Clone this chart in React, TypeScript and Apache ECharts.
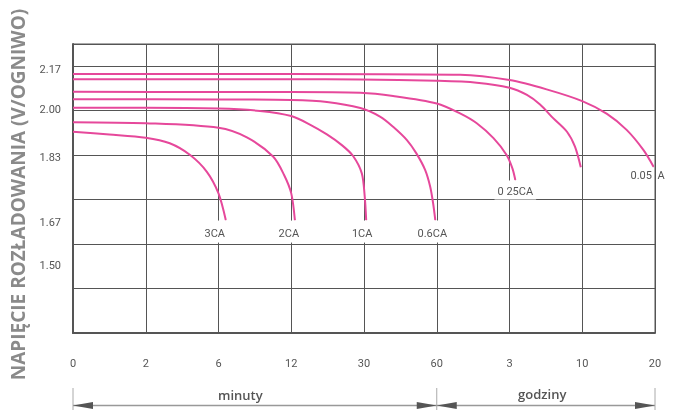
import React, { useEffect, useRef } from "react";
import * as echarts from "echarts";

// x positions are in axis-slot units: 0..8 -> labels below
const xTickLabels = ["0", "2", "6", "12", "30", "60", "3", "10", "20"];
const yTickLabels = ["2.17", "2.00", "1.83", "1.67", "1.50"];
const yTickLabelValues = [2.155, 2.003, 1.823, 1.58, 1.418];

const curveNames = ["3CA", "2CA", "1CA", "0.6CA", "0 25CA", "", "0.05  A"];

const c3CA: number[][] = [
  [0, 1.921], [0.5, 1.911], [1.0, 1.899], [1.33, 1.878], [1.61, 1.834],
  [1.84, 1.771], [2.0, 1.69], [2.1, 1.59],
];
const c2CA: number[][] = [
  [0, 1.957], [1.0, 1.953], [2.0, 1.936], [2.39, 1.9],
  [2.75, 1.828], [2.9, 1.76], [3.0, 1.69], [3.05, 1.59],
];
const c1CA: number[][] = [
  [0, 2.011], [1, 2.011], [2, 2.008], [2.57, 1.999], [3, 1.98], [3.25, 1.949],
  [3.49, 1.911], [3.7, 1.87], [3.85, 1.83], [3.97, 1.765], [4.01, 1.678], [4.03, 1.59],
];
const c06CA: number[][] = [
  [0, 2.043], [2, 2.042], [3, 2.04], [3.49, 2.033], [3.95, 2.01], [4.22, 1.978],
  [4.4, 1.94], [4.59, 1.89], [4.72, 1.84], [4.84, 1.778], [4.91, 1.715],
  [4.95, 1.653], [4.98, 1.59],
];
const c025CA: number[][] = [
  [0, 2.071], [2, 2.07], [3, 2.07], [3.95, 2.067], [4.4, 2.055], [5.0, 2.027],
  [5.32, 1.99], [5.55, 1.953], [5.78, 1.897], [5.96, 1.834], [6.04, 1.784],
  [6.08, 1.74],
];
const c01CA: number[][] = [
  [0, 2.118], [3, 2.118], [3.95, 2.117], [5.0, 2.112], [5.55, 2.105], [6.0, 2.086],
  [6.24, 2.059], [6.42, 2.023], [6.6, 1.972], [6.79, 1.921], [6.9, 1.865],
  [6.98, 1.788],
];
const c005CA: number[][] = [
  [0, 2.138], [3, 2.138], [5.32, 2.135], [6.0, 2.115], [6.51, 2.08], [7.0, 2.036],
  [7.34, 1.988], [7.61, 1.928], [7.84, 1.853], [7.98, 1.79],
];

const curves = [c3CA, c2CA, c1CA, c06CA, c025CA, c01CA, c005CA];

// label styling per curve (style only)
const labelStyles = [
  { offset: [-11, 0], padding: [7, 3, 4, 3], bg: "#fff" },
  { offset: [-6, 0], padding: [7, 3, 4, 3], bg: "#fff" },
  { offset: [-4, 0], padding: [7, 3, 4, 3], bg: "#fff" },
  { offset: [-3, 0], padding: [7, 3, 4, 3], bg: "#fff" },
  { offset: [0, 0], padding: [5, 3, 3, 3], bg: "#fff" },
  null,
  { offset: [-6, 0], padding: [3, 0, 0, 0], bg: "transparent" },
];

const PINK = "#e6489b";
const GRID = "#555";
const TEXT = "#555";
const FONT = "Roboto, 'Open Sans', sans-serif";

export default function App() {
  const ref = useRef<HTMLDivElement>(null);

  useEffect(() => {
    if (!ref.current) return;
    const chart = echarts.init(ref.current, undefined, { renderer: "svg" });

    const series = curves.map((pts, si) => {
      const ls = labelStyles[si];
      return {
        type: "line",
        name: curveNames[si],
        symbol: "none",
        showSymbol: true,
        smooth: 0.3,
        lineStyle: { color: PINK, width: 2 },
        itemStyle: { color: PINK },
        z: 3,
        data: pts.map((p, i) => {
          if (i === pts.length - 1 && ls) {
            return {
              value: p,
              symbol: "circle",
              symbolSize: 1,
              label: {
                show: true,
                formatter: curveNames[si],
                position: "bottom",
                distance: 0,
                offset: ls.offset,
                padding: ls.padding,
                backgroundColor: ls.bg,
                color: TEXT,
                fontSize: 11,
                fontFamily: FONT,
              },
            };
          }
          return p;
        }),
      };
    });

    chart.setOption({
      animation: false,
      grid: {
        left: 73,
        right: 23,
        top: 44,
        bottom: 77,
        show: true,
        borderColor: GRID,
        borderWidth: 1,
        backgroundColor: "transparent",
      },
      xAxis: {
        type: "value",
        min: 0,
        max: 8,
        interval: 1,
        axisLine: { show: true, onZero: false, lineStyle: { color: GRID, width: 2 } },
        axisTick: { show: false },
        splitLine: { show: true, lineStyle: { color: GRID, width: 1 } },
        axisLabel: {
          margin: 25,
          color: TEXT,
          fontSize: 11,
          fontFamily: FONT,
          formatter: (v: number) => xTickLabels[Math.round(v)] ?? "",
        },
      },
      yAxis: [
        {
          type: "value",
          min: 7 / 6,
          max: 2.25,
          interval: 1 / 6,
          axisLine: { show: true, onZero: false, lineStyle: { color: GRID, width: 2 } },
          axisTick: { show: false },
          axisLabel: { show: false },
          splitLine: { show: true, lineStyle: { color: GRID, width: 1 } },
          name: "NAPIĘCIE ROZŁADOWANIA (V/OGNIWO)",
          nameLocation: "middle",
          nameRotate: 90,
          nameGap: 46,
          nameTextStyle: {
            color: "#8a8a8a",
            fontSize: 19,
            fontWeight: "bold",
            fontFamily: "'Open Sans', sans-serif",
            padding: [0, 0, 0, -12],
          },
        },
        {
          type: "value",
          min: 7 / 6,
          max: 2.25,
          position: "left",
          axisLine: { show: false },
          axisTick: { show: false },
          splitLine: { show: false },
          axisLabel: {
            customValues: yTickLabelValues,
            margin: 12,
            color: TEXT,
            fontSize: 11,
            fontFamily: FONT,
            formatter: (v: number) => {
              let best = 0;
              let bd = Infinity;
              yTickLabelValues.forEach((tv, i) => {
                const d = Math.abs(tv - v);
                if (d < bd) {
                  bd = d;
                  best = i;
                }
              });
              return yTickLabels[best];
            },
          },
        },
      ],
      series,
    });

    // bottom range brackets computed from the axis scale
    const px = (v: number) => chart.convertToPixel({ xAxisIndex: 0 }, v) as number;
    const yb = chart.convertToPixel({ yAxisIndex: 0 }, 7 / 6) as number;
    const x0 = px(0);
    const x5 = px(5);
    const x8 = px(8);
    const ly = yb + 72.5;
    const AL = 20;
    const AH = 3.5;
    const arrow = (tip: number, dir: number) => ({
      type: "polygon",
      shape: {
        points: [
          [tip, ly],
          [tip + dir * AL, ly - AH],
          [tip + dir * AL, ly + AH],
        ],
      },
      style: { fill: "#555" },
    });
    const tick = (x: number) => ({
      type: "line",
      shape: { x1: x, y1: yb + 55, x2: x, y2: yb + 77 },
      style: { stroke: "#aaa", lineWidth: 1 },
    });
    chart.setOption({
      graphic: [
        {
          type: "line",
          shape: { x1: x0, y1: ly, x2: x8, y2: ly },
          style: { stroke: "#999", lineWidth: 1.5 },
        },
        tick(x0),
        tick(x5),
        tick(x8),
        arrow(x0, 1),
        arrow(x5, -1),
        arrow(x5, 1),
        arrow(x8, -1),
        {
          type: "text",
          x: px(2.3),
          y: ly - 11,
          style: {
            text: "minuty",
            fill: TEXT,
            font: "600 13px 'Open Sans', sans-serif",
            align: "center",
            verticalAlign: "middle",
          },
        },
        {
          type: "text",
          x: px(6.45),
          y: ly - 12,
          style: {
            text: "godziny",
            fill: TEXT,
            font: "600 13px 'Open Sans', sans-serif",
            align: "center",
            verticalAlign: "middle",
          },
        },
      ],
    });

    return () => chart.dispose();
  }, []);

  return (
    <div
      ref={ref}
      style={{ position: "fixed", left: 0, top: 0, width: 678, height: 410 }}
    />
  );
}
